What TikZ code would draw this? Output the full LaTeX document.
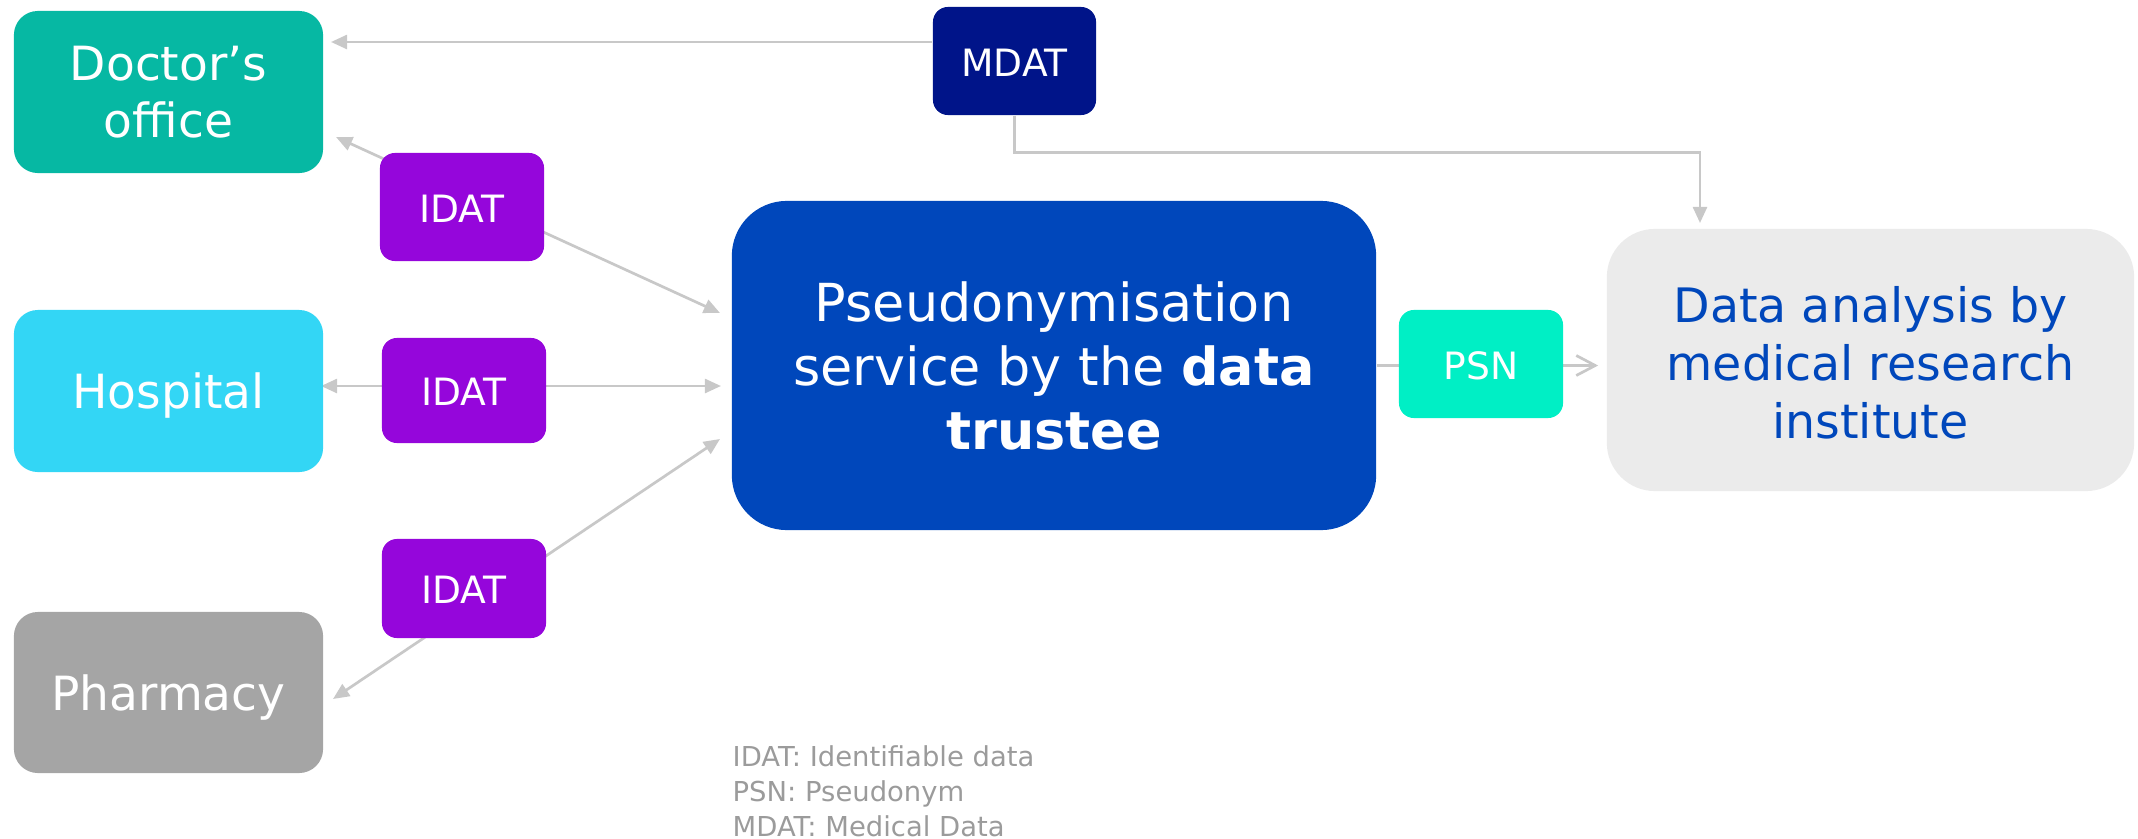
\documentclass[tikz,border=0pt]{standalone}
\usepackage{fontspec}
\setmainfont{DejaVu Sans}
\usetikzlibrary{arrows.meta,backgrounds}
\definecolor{docc}{HTML}{06B8A3}
\definecolor{hospc}{HTML}{33D6F5}
\definecolor{pharmc}{HTML}{A5A5A5}
\definecolor{mdatc}{HTML}{001489}
\definecolor{idatc}{HTML}{9506DB}
\definecolor{cenc}{HTML}{0047BB}
\definecolor{psnc}{HTML}{00EFC5}
\definecolor{datac}{HTML}{EBEBEB}
\definecolor{linec}{HTML}{C8C8C8}
\definecolor{legc}{HTML}{9B9B9B}
\begin{document}
\begin{tikzpicture}[x=0.01cm,y=-0.01cm,
  sidebox/.style={rectangle, rounded corners=0.24cm, inner sep=0pt, align=center,
    text=white, minimum width=3.09cm, font=\fontsize{13.4}{16.2}\selectfont},
  tagbox/.style={rectangle, rounded corners=0.15cm, inner sep=0pt, align=center,
    text=white, minimum width=1.64cm, font=\fontsize{10.7}{12}\selectfont},
  tagtext/.style={text height=0.87em, text depth=0pt},
  conn/.style={draw=linec, line width=0.77pt},
  tri/.style={-{Triangle[length=4.6pt,width=4pt]}},
  tritwo/.style={{Triangle[length=4.6pt,width=4pt]}-{Triangle[length=4.6pt,width=4pt]}},
]
\useasboundingbox (0,0) rectangle (2138,839);

% nodes
\node[sidebox, fill=docc, minimum height=1.62cm] (doc) at (168.5,92) {Doctor’s\\office};
\node[sidebox, fill=hospc, minimum height=1.62cm, text depth=0pt] (hosp) at (168.5,391) {Hospital};
\node[sidebox, fill=pharmc, minimum height=1.61cm, text depth=0pt] (pharm) at (168.5,692.5) {Pharmacy};

\node[tagbox, tagtext, fill=mdatc, minimum width=1.63cm, minimum height=1.08cm] (mdat) at (1014.5,61) {MDAT};
\node[tagbox, tagtext, fill=idatc, minimum height=1.08cm] (idat1) at (462,207) {IDAT};
\node[tagbox, tagtext, fill=idatc, minimum height=1.05cm] (idat2) at (464,390.5) {IDAT};
\node[tagbox, tagtext, fill=idatc, minimum height=0.99cm] (idat3) at (464,588.5) {IDAT};

\node[rectangle, rounded corners=0.55cm, fill=cenc, text=white, inner sep=0pt, align=center,
  minimum width=6.44cm, minimum height=3.29cm, font=\fontsize{14.9}{18.2}\selectfont]
  (cen) at (1054,365.5) {Pseudonymisation\\service by the \textbf{data}\\\textbf{trustee}};

\node[tagbox, tagtext, fill=psnc, minimum height=1.08cm] (psn) at (1481,364) {PSN};

\node[rectangle, rounded corners=0.48cm, fill=datac, text=cenc, inner sep=0pt,
  minimum width=5.27cm, minimum height=2.62cm, font=\fontsize{13.5}{16.5}\selectfont]
  (data) at (1870.5,360) {\raisebox{-0.03cm}[\height][\depth]{\parbox{5cm}{\centering Data analysis by\\medical research\\institute}}};

\node[anchor=north west, inner sep=0pt, align=left, text=legc,
  font=\fontsize{7.8}{9.96}\selectfont] (legend) at (732,745)
  {IDAT: Identifiable data\\PSN: Pseudonym\\MDAT: Medical Data};

% tip coordinates
\coordinate (docTipA) at (331,42);
\coordinate (docTipB) at (336,137);
\coordinate (cenTipA) at (720,313);
\coordinate (hospTip) at (321,386);
\coordinate (cenTipB) at (721,386);
\coordinate (pharmTip) at (333,699);
\coordinate (cenTipC) at (720,439);
\coordinate (dataTip) at (1700,223);

% connectors
\draw[conn, tri] (mdat.west |- docTipA) -- (docTipA);
\draw[conn, tri] (mdat.south) -- ++(0,37) -| (dataTip);
\begin{scope}[on background layer]
\draw[conn, tritwo] (docTipB) -- (cenTipA);
\draw[conn, tritwo] (hospTip) -- (cenTipB);
\draw[conn, tritwo] (pharmTip) -- (cenTipC);
\draw[conn, -{Straight Barb[length=5.4pt,width=5.7pt]}, shorten >=0.08cm]
  (cen.east) -- (data.west |- cen.east);
\end{scope}
\end{tikzpicture}
\end{document}
